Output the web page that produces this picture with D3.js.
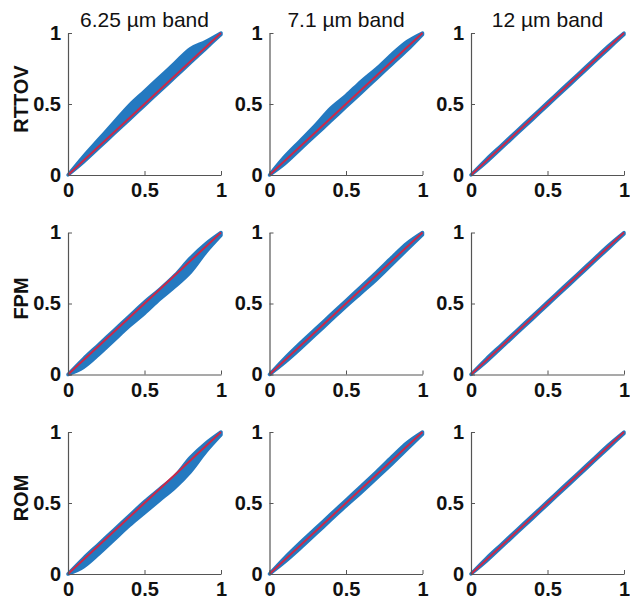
<!DOCTYPE html>
<html>
<head>
<meta charset="utf-8">
<script src="https://cdn.jsdelivr.net/npm/d3@7"></script>
<style>
  body { margin: 0; background: #fff; }
  text { font-family: "Liberation Sans", Arial, sans-serif; }
</style>
</head>
<body>
<div class="grid"></div>
<script>
// column titles, row labels, ticks
var bands = ["6.25 µm band", "7.1 µm band", "12 µm band"];
var models = ["RTTOV", "FPM", "ROM"];
var tickVals = [0, 0.5, 1];

var xGrid = [0, 0.1, 0.2, 0.3, 0.4, 0.5, 0.6, 0.7, 0.8, 0.9, 1];

// lower / upper edge of the blue point cloud, per panel
var lowRTTOV625  = [0, 0.09, 0.19, 0.29, 0.39, 0.49, 0.59, 0.69, 0.79, 0.89, 0.99];
var highRTTOV625 = [0, 0.13, 0.25, 0.37, 0.49, 0.59, 0.69, 0.79, 0.89, 0.94, 1];
var lowRTTOV71   = [0, 0.08, 0.18, 0.28, 0.38, 0.48, 0.58, 0.68, 0.78, 0.88, 0.99];
var highRTTOV71  = [0, 0.13, 0.24, 0.35, 0.47, 0.56, 0.66, 0.75, 0.85, 0.94, 1];
var lowRTTOV12   = [0, 0.09, 0.19, 0.29, 0.39, 0.49, 0.59, 0.69, 0.79, 0.89, 0.99];
var highRTTOV12  = [0, 0.11, 0.21, 0.31, 0.41, 0.51, 0.61, 0.71, 0.81, 0.91, 1];

var lowFPM625  = [0, 0.05, 0.14, 0.24, 0.34, 0.43, 0.53, 0.62, 0.72, 0.86, 0.98];
var highFPM625 = [0, 0.11, 0.21, 0.31, 0.41, 0.51, 0.6, 0.7, 0.82, 0.92, 1];
var lowFPM71   = [0, 0.085, 0.18, 0.28, 0.38, 0.48, 0.575, 0.67, 0.775, 0.88, 0.985];
var highFPM71  = [0, 0.115, 0.22, 0.32, 0.42, 0.52, 0.62, 0.72, 0.825, 0.925, 1];
var lowFPM12   = [0, 0.09, 0.19, 0.29, 0.39, 0.49, 0.59, 0.69, 0.79, 0.89, 0.99];
var highFPM12  = [0, 0.11, 0.21, 0.31, 0.41, 0.51, 0.61, 0.71, 0.81, 0.91, 1];

var lowROM625  = [0, 0.05, 0.14, 0.24, 0.34, 0.43, 0.52, 0.61, 0.72, 0.86, 0.98];
var highROM625 = [0, 0.11, 0.21, 0.31, 0.41, 0.51, 0.6, 0.69, 0.82, 0.92, 1];
var lowROM71   = [0, 0.085, 0.18, 0.28, 0.38, 0.48, 0.575, 0.675, 0.775, 0.88, 0.985];
var highROM71  = [0, 0.115, 0.22, 0.32, 0.42, 0.52, 0.62, 0.72, 0.825, 0.925, 1];
var lowROM12   = [0, 0.09, 0.19, 0.29, 0.39, 0.49, 0.59, 0.69, 0.79, 0.89, 0.99];
var highROM12  = [0, 0.11, 0.21, 0.31, 0.41, 0.51, 0.61, 0.71, 0.81, 0.91, 1];

var cloud = [
  [[lowRTTOV625, highRTTOV625], [lowRTTOV71, highRTTOV71], [lowRTTOV12, highRTTOV12]],
  [[lowFPM625, highFPM625], [lowFPM71, highFPM71], [lowFPM12, highFPM12]],
  [[lowROM625, highROM625], [lowROM71, highROM71], [lowROM12, highROM12]]
];

var W = 630, H = 603;
var pw = 153, ph = 142;

var svg = d3.select(".grid")
    .append("svg")
    .attr("width", W)
    .attr("height", H);

var x = d3.scaleLinear().domain([0, 1]).range([0, pw]);
var y = d3.scaleLinear().domain([0, 1]).range([ph, 0]);

var blue = "#2479c0", red = "#cc2848";

models.forEach(function (model, r) {
  bands.forEach(function (band, c) {
    var left = 68 + c * 201.5, top = 33 + r * 199.5;
    var g = svg.append("g")
        .attr("transform", "translate(" + left + "," + top + ")");

    var lo = cloud[r][c][0], hi = cloud[r][c][1];
    var pts = xGrid.map(function (v, i) { return {x: v, lo: lo[i], hi: hi[i]}; });

    // blue point cloud as a band
    var area = d3.area()
        .curve(d3.curveCatmullRom)
        .x(d => x(d.x))
        .y0(d => y(d.lo))
        .y1(d => y(d.hi));
    g.append("path")
        .attr("d", area(pts))
        .style("fill", blue)
        .style("stroke", blue)
        .style("stroke-width", 3.5)
        .style("stroke-linejoin", "round");

    // 1:1 line
    g.append("path")
        .attr("d", d3.line()(tickVals.map(v => [x(v), y(v)])))
        .style("fill", "none")
        .style("stroke", red)
        .style("stroke-width", 2);

    var axX = g.append("g")
        .attr("transform", "translate(0," + ph + ")")
        .call(d3.axisBottom(x).tickValues(tickVals).tickFormat(d3.format("~g"))
              .tickSizeInner(-4).tickSizeOuter(0).tickPadding(8));
    var axY = g.append("g")
        .call(d3.axisLeft(y).tickValues(tickVals).tickFormat(d3.format("~g"))
              .tickSizeInner(-4).tickSizeOuter(0).tickPadding(7));

    [axX, axY].forEach(function (ax) {
      ax.select(".domain").style("stroke", "#555").style("stroke-width", 1.2);
      ax.selectAll(".tick line").style("stroke", "#555");
      ax.selectAll("text")
          .style("font-size", "20px")
          .style("font-weight", "bold")
          .style("fill", "#111");
    });

    if (r == 0) {
      svg.append("text")
          .attr("x", left + pw / 2)
          .attr("y", 27)
          .attr("text-anchor", "middle")
          .style("font-size", "21px")
          .style("fill", "#111")
          .text(band);
    }
    if (c == 0) {
      svg.append("text")
          .attr("transform", "translate(28," + (top + ph / 2 - 5) + ")rotate(-90)")
          .attr("text-anchor", "middle")
          .style("font-size", "20px")
          .style("font-weight", "bold")
          .style("fill", "#111")
          .text(model);
    }
  });
});
</script>
</body>
</html>
